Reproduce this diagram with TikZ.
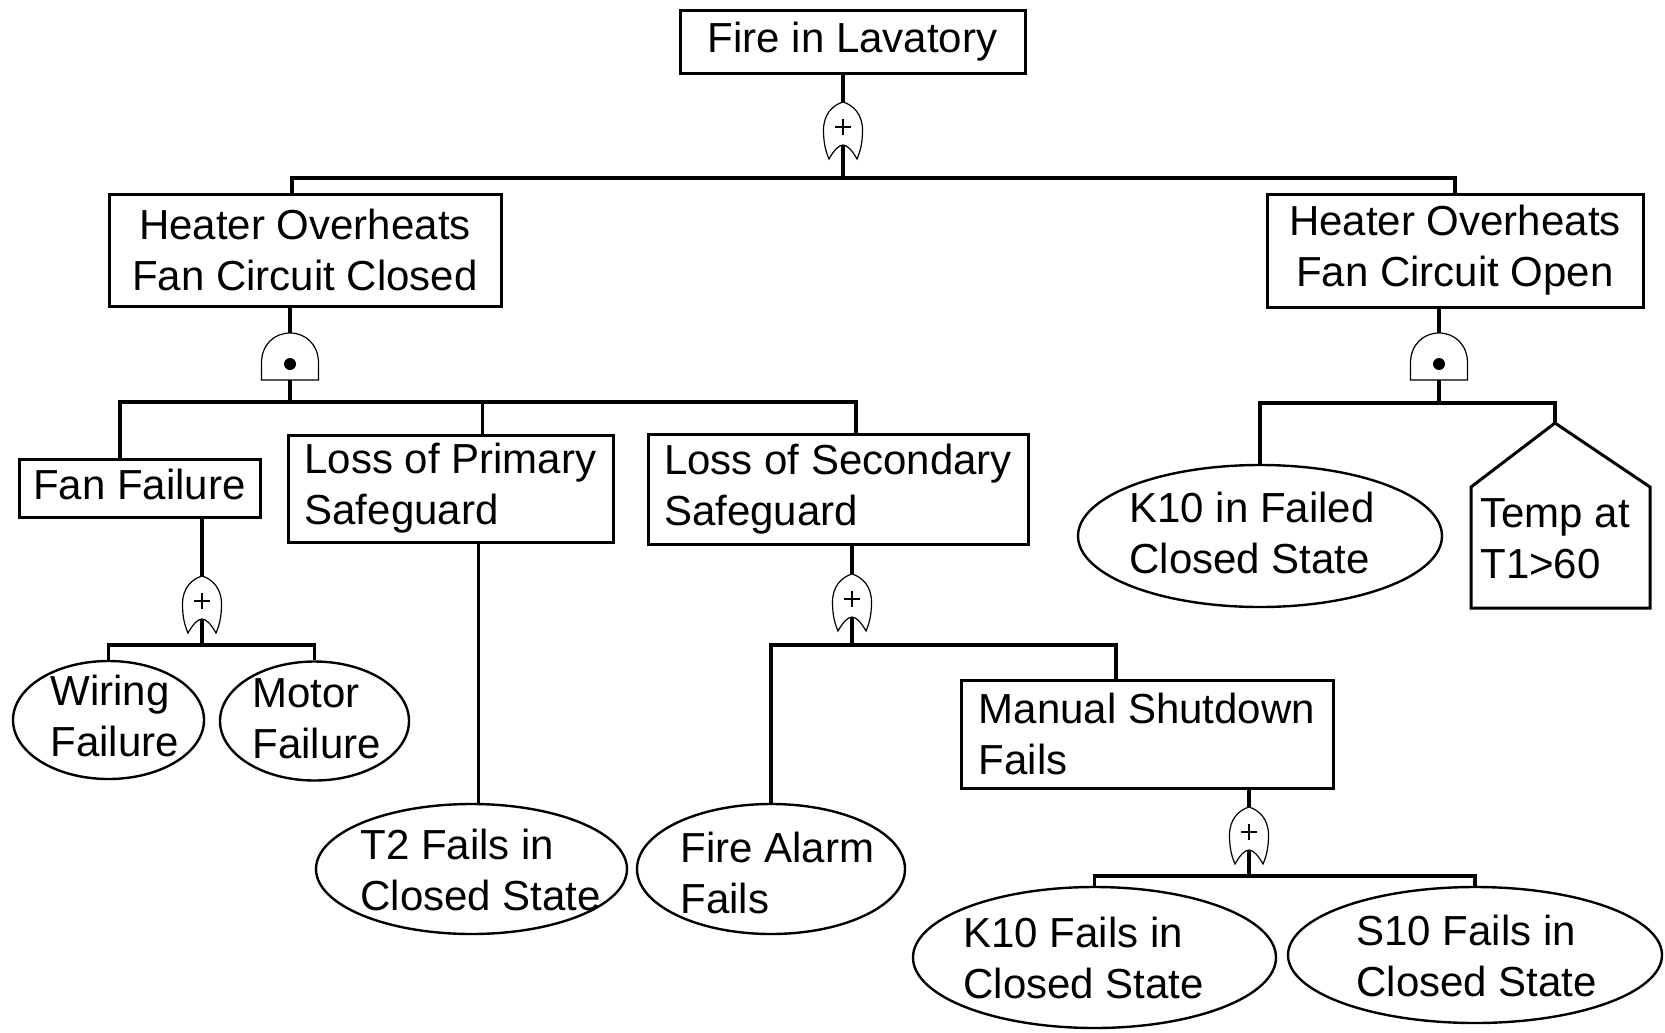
\documentclass[tikz,border=0pt]{standalone}
\usepackage{fontspec}
\setmainfont{Liberation Sans}
\usetikzlibrary{shapes.geometric}
\tikzset{
  every node/.style={font=\fontsize{21}{25.5}\selectfont},
  box/.style={draw, rectangle, line width=1.5pt, inner sep=0pt},
  evt/.style={draw, ellipse, line width=1.2pt, inner sep=0pt},
  txt/.style={inner sep=0pt, align=left, anchor=base west},
  wire/.style={line width=1.6pt},
  gateline/.style={line width=0.6pt, fill=white},
  orgate/.pic={
    \draw[gateline] (0,0) .. controls (-10,3) and (-19.5,12) .. (-19.5,28)
      .. controls (-19.5,42) and (-17,50) .. (-14,57)
      .. controls (-9,48) and (-4,43) .. (0,43)
      .. controls (4,43) and (9,48) .. (14,57)
      .. controls (17,50) and (19.5,42) .. (19.5,28)
      .. controls (19.5,12) and (10,3) .. (0,0) -- cycle;
    \draw[line width=1.3pt] (-8,25) -- (8,25) (0,17) -- (0,33);
    \coordinate (-in) at (0,0);
    \coordinate (-out) at (0,43);
  },
  andgate/.pic={
    \draw[gateline] (-28.5,47) -- (-28.5,30) .. controls (-28.5,12) and (-16,0) .. (0,0)
      .. controls (16,0) and (28.5,12) .. (28.5,30) -- (28.5,47) -- cycle;
    \fill (0,31) circle (3pt);
    \coordinate (-in) at (0,0);
    \coordinate (-out) at (0,47);
  }
}
\begin{document}
\begin{tikzpicture}[x=0.5pt,y=-0.5pt]
\useasboundingbox (0,0) rectangle (1665,1033);

% boxes
\node[box, minimum width=172.5pt, minimum height=31.5pt] (fire) at (852.5,41.5) {Fire in Lavatory};
\node[box, minimum width=196pt, minimum height=56pt, align=center] (hoc) at (305,250) {Heater Overheats\\Fan Circuit Closed};
\node[box, minimum width=188pt, minimum height=56.5pt, align=center] (hoo) at (1455,250.5) {Heater Overheats\\Fan Circuit Open};
\node[box, minimum width=120.5pt, minimum height=29pt, text depth=4pt] (fan) at (139.5,488) {Fan Failure};
\node[box, minimum width=162.5pt, minimum height=53.5pt, align=left] (prim) at (450.5,488.5) {Loss of Primary\\Safeguard};
\node[box, minimum width=190pt, minimum height=55pt, align=left] (sec) at (838,489) {Loss of Secondary\\Safeguard};
\node[box, minimum width=186pt, minimum height=54pt, align=left] (man) at (1147,734) {Manual Shutdown\\Fails};

% basic events
\node[evt, minimum width=95.5pt, minimum height=59pt] (wir) at (108.5,720) {};
\node[evt, minimum width=94.5pt, minimum height=59.5pt] (mot) at (314.5,721) {};
\node[evt, minimum width=155.5pt, minimum height=65pt] (t2) at (471.5,869) {};
\node[evt, minimum width=134pt, minimum height=65pt] (alm) at (771,869) {};
\node[evt, minimum width=181.5pt, minimum height=70.5pt] (k10f) at (1094.5,957.5) {};
\node[evt, minimum width=187pt, minimum height=68pt] (s10) at (1475,955) {};
\node[evt, minimum width=182pt, minimum height=71pt] (k10c) at (1260,536) {};

% house event
\draw[line width=1.5pt] (1555,423) -- (1650,487) -- (1650,608) -- (1471,608) -- (1471,487) -- cycle;
\coordinate (temp) at (1555,423);

% event texts (anchored at the baseline of the last line)
\node[txt] (wirt) at (50,756) {Wiring\\Failure};
\node[txt] (mott) at (252,758) {Motor\\Failure};
\node[txt] (t2t) at (360,910) {T2 Fails in\\Closed State};
\node[txt] (almt) at (680,913) {Fire Alarm\\Fails};
\node[txt] (k10ft) at (963,998) {K10 Fails in\\Closed State};
\node[txt] (s10t) at (1356,996) {S10 Fails in\\Closed State};
\node[txt] (k10ct) at (1129,573) {K10 in Failed\\Closed State};
\node[txt] (tempt) at (1480,578) {Temp at\\T1>60};

% junction coordinates
\coordinate (b0) at (843,178);
\coordinate (b1) at (290,402);
\coordinate (b2) at (202,645);
\coordinate (b3) at (852,645);
\coordinate (b4) at (1249,876);
\coordinate (b5) at (1439,403);

% gates
\pic (g0) at (843,102) {orgate};
\pic (g1) at (290,333) {andgate};
\pic (g2) at (202,576) {orgate};
\pic (g3) at (852,574) {orgate};
\pic (g4) at (1249,807) {orgate};
\pic (g5) at (1439,333) {andgate};

% connectors
\draw[wire] (g0-in |- fire.south) -- (g0-in);
\draw[wire] (g0-out) -- (b0);
\draw[wire] (b0) -| ([xshift=-6.5pt]hoc.north);
\draw[wire] (b0) -| (hoo.north);

\draw[wire] (g1-in |- hoc.south) -- (g1-in);
\draw[wire] (g1-out) -- (b1);
\draw[wire] (b1) -| ([xshift=-9.75pt]fan.north);
\draw[wire] (b1) -| ([xshift=16pt]prim.north);
\draw[wire] (b1) -| ([xshift=9pt]sec.north);

\draw[wire] (g2-in |- fan.south) -- (g2-in);
\draw[wire] (g2-out) -- (b2);
\draw[wire] (b2) -| (wir.north);
\draw[wire] (b2) -| (mot.north);

\draw[wire] ([xshift=14pt]prim.south) -- ([xshift=14pt]prim.south |- t2.north);

\draw[wire] (g3-in |- sec.south) -- (g3-in);
\draw[wire] (g3-out) -- (b3);
\draw[wire] (b3) -| (alm.north);
\draw[wire] (b3) -| ([xshift=-15.5pt]man.north);

\draw[wire] (g4-in |- man.south) -- (g4-in);
\draw[wire] (g4-out) -- (b4);
\draw[wire] (b4) -| (k10f.north);
\draw[wire] (b4) -| (s10.north);

\draw[wire] (g5-in |- hoo.south) -- (g5-in);
\draw[wire] (g5-out) -- (b5);
\draw[wire] (b5) -| (k10c.north);
\draw[wire] (b5) -| (temp);
\end{tikzpicture}
\end{document}
